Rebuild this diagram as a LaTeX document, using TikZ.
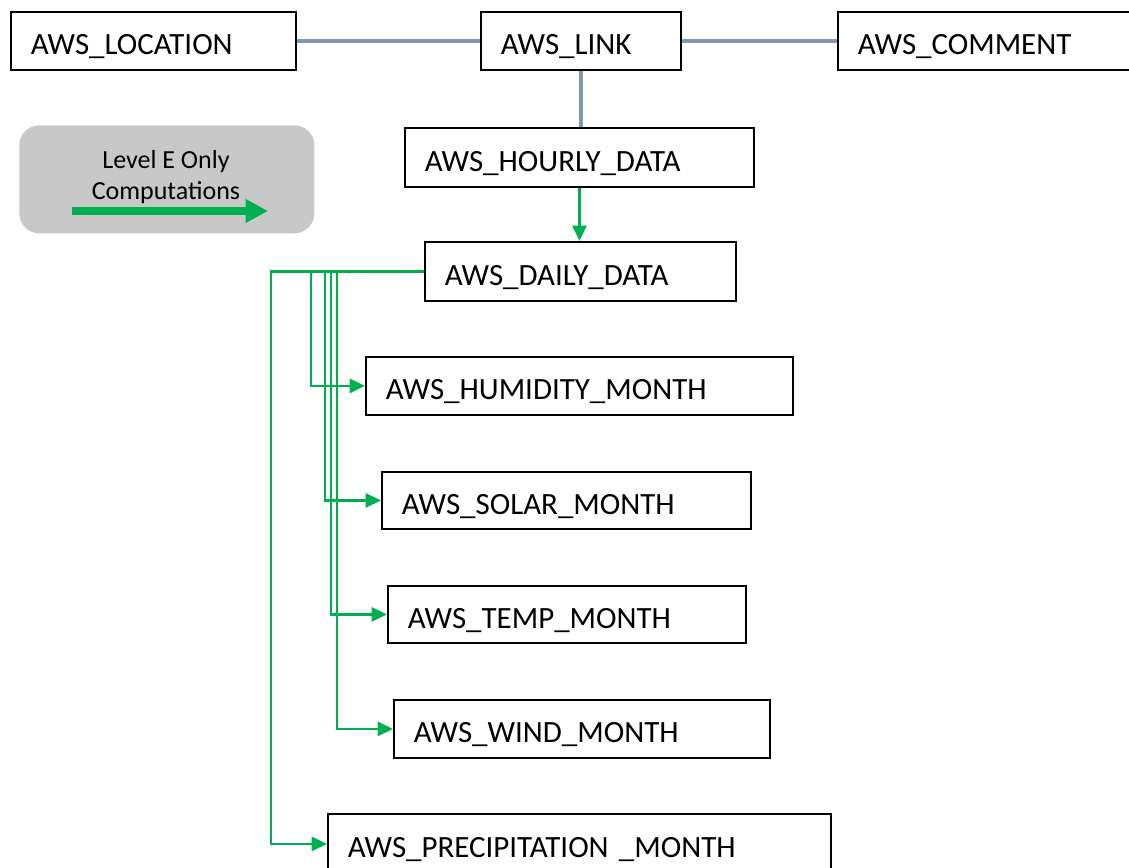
\documentclass[tikz,border=0pt]{standalone}
\usepackage{fontspec}
\setmainfont{Carlito}
\usetikzlibrary{arrows.meta}
\definecolor{relgray}{HTML}{8497B0}
\definecolor{calcgreen}{HTML}{00B050}
\definecolor{keygray}{HTML}{C8C8C8}

\begin{document}
\begin{tikzpicture}
            [x=0.025cm, y=-0.025cm,
             tbl/.style={draw=black, line width=1.3pt, anchor=north west, text width=#1, align=left,
                         inner xsep=0.5cm, inner ysep=0pt, minimum height=1.45cm,
                         text height=20pt, text depth=0pt,
                         font=\fontsize{22}{26}\selectfont},
             rel/.style={draw=relgray, line width=2.5pt},
             calc/.style={draw=calcgreen, line width=2pt, -{Triangle[length=11pt,width=10pt]}}]
            \useasboundingbox (0,0) rectangle (1129,867);
            \clip (0,0) rectangle (1129,867);

            % legend
            \node[fill=keygray, rounded corners=0.5cm, anchor=north west, minimum width=7.375cm, minimum height=2.7cm] (key) at (19,125) {};
            \node[font=\fontsize{18.5}{22}\selectfont, align=center] (keytext) at (166,177) {Level E Only\\Computations};
            \coordinate (keystart) at (72,211);
            \coordinate (keyend) at (268,211);
            \draw[draw=calcgreen, line width=5pt, -{Triangle[length=16pt,width=16pt]}] (keystart) -- (keyend);

            % tables
            \node[tbl=6.125cm] (loc) at (10,11) {AWS\_LOCATION};
            \node[tbl=4.0cm] (link) at (480,11) {AWS\_LINK};
            \node[tbl=7.5cm] (comment) at (837,11) {AWS\_COMMENT};
            \node[tbl=7.725cm, minimum height=1.475cm] (hourly) at (404,127) {AWS\_HOURLY\_DATA};
            \node[tbl=6.775cm, minimum height=1.475cm] (daily) at (424,241) {AWS\_DAILY\_DATA};
            \node[tbl=9.675cm] (hum) at (365,356) {AWS\_HUMIDITY\_MONTH};
            \node[tbl=8.225cm, minimum height=1.425cm] (solar) at (381,471) {AWS\_SOLAR\_MONTH};
            \node[tbl=7.95cm, minimum height=1.425cm] (temp) at (387,585) {AWS\_TEMP\_MONTH};
            \node[tbl=8.4cm] (wind) at (393,699) {AWS\_WIND\_MONTH};
            \node[tbl=11.575cm, minimum height=1.5cm] (precip) at (327,813) {AWS\_PRECIPITATION \_MONTH};

            % relations
            \draw[rel] (loc.east) -- (link.west);
            \draw[rel] (link.east) -- (comment.west);
            \draw[rel] (link.south) -- (link.south |- hourly.north);

            % level E computations
            \draw[calc] (hourly.south) -- (hourly.south |- daily.north);
            \draw[calc] (daily.west) -| ([xshift=-1.4cm]precip.west) -- (precip.west);
            \draw[calc] (daily.west) -| ([xshift=-1.35cm]hum.west) -- (hum.west);
            \draw[calc] (daily.west) -| ([xshift=-1.4cm]solar.west) -- (solar.west);
            \draw[calc] (daily.west) -| ([xshift=-1.4cm]temp.west) -- (temp.west);
            \draw[calc] (daily.west) -| ([xshift=-1.4cm]wind.west) -- (wind.west);
\end{tikzpicture}
\end{document}
